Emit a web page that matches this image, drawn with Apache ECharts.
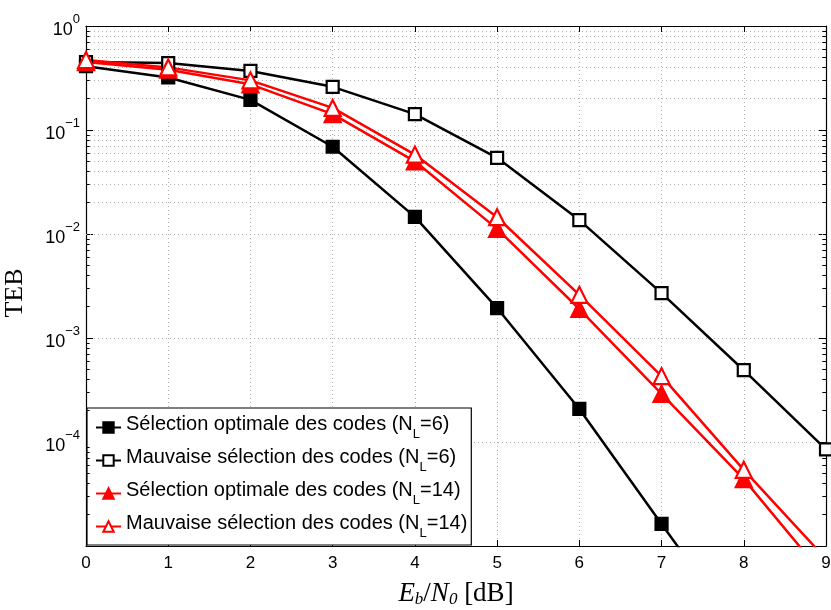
<!DOCTYPE html>
<html><head><meta charset="utf-8">
<script src="https://cdn.jsdelivr.net/npm/echarts@6/dist/echarts.min.js"></script>
<style>html,body{margin:0;padding:0;background:#fff}#c{width:831px;height:610px}</style>
</head><body><div id="c"></div>
<script>
const xValues = [0, 1, 2, 3, 4, 5, 6, 7, 8, 9];
const optNL6 = [0.41, 0.32, 0.195, 0.069, 0.0146, 0.00194, 2.08e-4, 1.63e-5, 1.3e-6, null];
const badNL6 = [0.45, 0.44, 0.37, 0.26, 0.142, 0.054, 0.0136, 0.0027, 4.9e-4, 8.5e-5];
const optNL14 = [0.45, 0.38, 0.275, 0.142, 0.05, 0.0112, 0.0019, 2.9e-4, 4.4e-5, 4.9e-6];
const badNL14 = [0.47, 0.40, 0.30, 0.163, 0.058, 0.0145, 0.0026, 4.3e-4, 5.4e-5, 7.5e-6];
const seriesNames = [
  'Sélection optimale des codes (NL=6)',
  'Mauvaise sélection des codes (NL=6)',
  'Sélection optimale des codes (NL=14)',
  'Mauvaise sélection des codes (NL=14)'
];
const yMin = 1e-5, yMax = 1;

function pairs(arr) { return xValues.map((x, i) => [x, arr[i]]).filter(p => p[1] != null); }

// minor positions 2..9 x 10^k
const minorVals = [];
for (let k = -5; k < 0; k++) for (let m = 2; m <= 9; m++) minorVals.push(m * Math.pow(10, k));

const gridDot = { color: '#b0b0b0', width: 1, type: [1, 3] };

const minorGrid = minorVals.map(v => ({ yAxis: v }));
const minorTicks = [];
minorVals.forEach(v => {
  minorTicks.push([{ coord: [0, v] }, { coord: [0.045, v] }]);
  minorTicks.push([{ coord: [9, v] }, { coord: [8.955, v] }]);
});

function mk(name, data, color, filled, symbol, size) {
  return {
    name: name, type: 'line', data: pairs(data),
    symbol: symbol, symbolSize: size,
    lineStyle: { color: color, width: 2.5 },
    itemStyle: { color: filled ? color : '#fff', borderColor: color, borderWidth: 2.2 },
    emphasis: { disabled: true },
    clip: true, z: 5
  };
}

const chart = echarts.init(document.getElementById('c'), null, { renderer: 'canvas' });
const leg = n => {
  const m = n.match(/^(.*\(N)L(=\d+\))$/);
  return '{t|' + m[1] + '}{s|L}{t|' + m[2] + '}';
};
chart.setOption({
  animation: false,
  backgroundColor: '#fff',
  grid: { left: 86, right: 5, top: 26, bottom: 64, containLabel: false, outerBoundsMode: 'none' },
  xAxis: [{
    type: 'value', min: 0, max: 9, interval: 1,
    axisLine: { show: true, onZero: false, lineStyle: { color: '#000', width: 1.2 } },
    axisTick: { show: true, inside: true, length: 6, lineStyle: { color: '#000' } },
    axisLabel: { color: '#000', fontFamily: 'Liberation Sans, Arial', fontSize: 17, margin: 9 },
    splitLine: { show: true, lineStyle: gridDot },
    name: '{i|E}{sb|b}{n|/}{i|N}{sb|0}{n| [dB]}',
    nameLocation: 'middle', nameGap: 33,
    nameTextStyle: {
      rich: {
        i: { fontFamily: 'Liberation Serif, serif', fontStyle: 'italic', fontSize: 27, color: '#000' },
        n: { fontFamily: 'Liberation Serif, serif', fontSize: 27, color: '#000' },
        sb: { fontFamily: 'Liberation Serif, serif', fontStyle: 'italic', fontSize: 17, color: '#000', verticalAlign: 'bottom', padding: [12, 0, 0, 0] }
      }
    }
  }, {
    type: 'value', min: 0, max: 9, interval: 1, position: 'top',
    axisLine: { show: true, onZero: false, lineStyle: { color: '#000', width: 1.2 } },
    axisTick: { show: true, inside: true, length: 6, lineStyle: { color: '#000' } },
    axisLabel: { show: false }, splitLine: { show: false }
  }],
  yAxis: [{
    type: 'log', logBase: 10, min: yMin, max: yMax, splitNumber: 5,
    axisLine: { show: true, onZero: false, lineStyle: { color: '#000', width: 1.2 } },
    axisTick: { show: true, inside: true, length: 7, lineStyle: { color: '#000' } },
    splitLine: { show: true, lineStyle: gridDot },
    minorTick: { show: false },
    axisLabel: {
      showMinLabel: false, margin: 6,
      formatter: v => {
        const e = Math.round(Math.log10(v));
        return '{b|10}{e|' + (e < 0 ? '\u2212' + (-e) : e) + '}';
      },
      rich: {
        b: { fontFamily: 'Liberation Sans, Arial', fontSize: 18, color: '#000', verticalAlign: 'bottom', padding: [9, 0, 0, 0] },
        e: { fontFamily: 'Liberation Sans, Arial', fontSize: 13, color: '#000', verticalAlign: 'top' }
      }
    },
    name: 'TEB', nameLocation: 'middle', nameGap: 58, nameRotate: 90,
    nameTextStyle: { fontFamily: 'Liberation Serif, serif', fontSize: 26, color: '#000', padding: [0, 14, 0, 0] }
  }, {
    type: 'log', logBase: 10, min: yMin, max: yMax, splitNumber: 5, position: 'right',
    axisLine: { show: true, onZero: false, lineStyle: { color: '#000', width: 1.2 } },
    axisTick: { show: true, inside: true, length: 7, lineStyle: { color: '#000' } },
    axisLabel: { show: false }, splitLine: { show: false }
  }],
  legend: {
    orient: 'vertical', left: 87, top: 408,
    backgroundColor: '#fff', borderColor: '#000', borderWidth: 1.2, borderRadius: 0,
    padding: [6, 4, 5, 8], itemGap: 6, itemWidth: 25, itemHeight: 13,
    data: seriesNames,
    formatter: leg,
    textStyle: {
      rich: {
        t: { fontFamily: 'Liberation Sans, Arial', fontSize: 20, color: '#000', verticalAlign: 'top', lineHeight: 22 },
        s: { fontFamily: 'Liberation Sans, Arial', fontSize: 13, color: '#000', verticalAlign: 'bottom', padding: [14, 0, 0, 0] }
      }
    },
    selectedMode: false
  },
  series: [
    {
      name: 'minor', type: 'line', data: [], silent: true, z: 1,
      markLine: { silent: true, symbol: 'none', label: { show: false }, lineStyle: gridDot, data: minorGrid, animation: false }
    },
    {
      name: 'minorTicks', type: 'line', data: [], silent: true, z: 2,
      markLine: { silent: true, symbol: 'none', label: { show: false }, lineStyle: { color: '#000', width: 1, type: 'solid' }, data: minorTicks, animation: false }
    },
    mk(seriesNames[0], optNL6, '#000', true, 'rect', 12),
    mk(seriesNames[1], badNL6, '#000', false, 'rect', 12),
    mk(seriesNames[2], optNL14, '#ff0000', true, 'triangle', 16),
    mk(seriesNames[3], badNL14, '#ff0000', false, 'triangle', 16)
  ]
});
</script></body></html>
